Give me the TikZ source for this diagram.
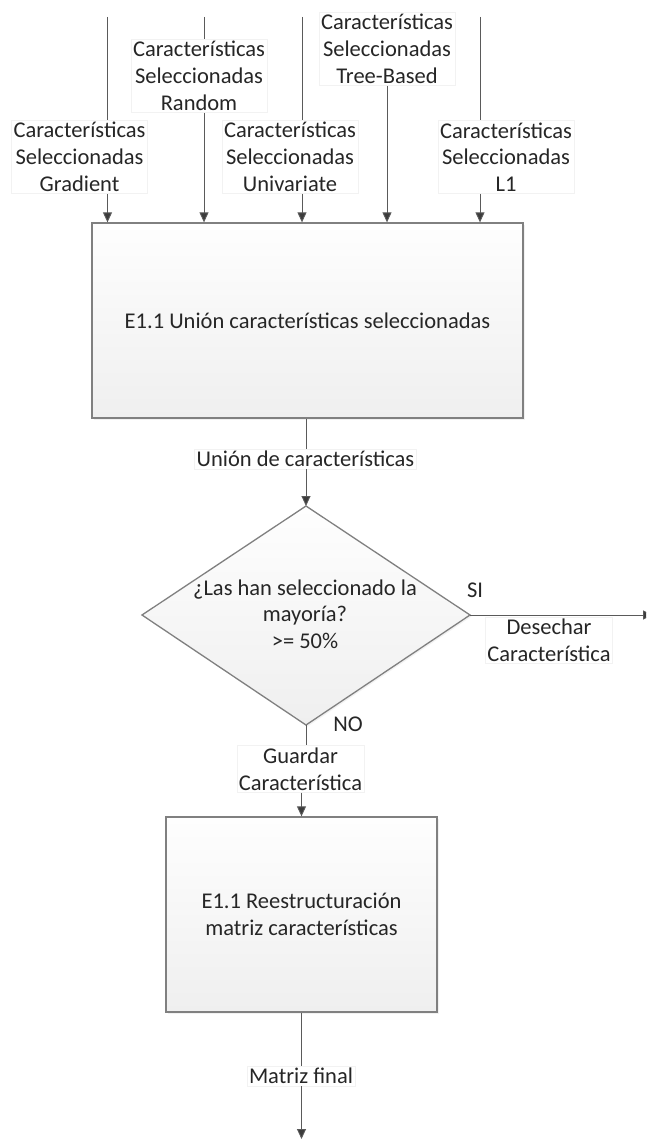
\documentclass[tikz,border=0pt]{standalone}
\usepackage{fontspec}
\setmainfont{Carlito}
\usetikzlibrary{arrows.meta,calc,shadows}

\definecolor{lineC}{HTML}{5A5A5A}
\definecolor{tipC}{HTML}{3C3C3C}
\definecolor{edgeC}{HTML}{808080}
\definecolor{txtC}{HTML}{262626}
\definecolor{labEdge}{HTML}{F2F2F2}
\definecolor{fillTop}{HTML}{FEFEFE}
\definecolor{fillBot}{HTML}{EFEFEF}

\tikzset{
  wire/.style={draw=lineC, line width=0.9pt},
  arr/.style={wire, -{Triangle[length=10pt,width=9pt,fill=tipC]}},
  lbl/.style={fill=white, draw=labEdge, line width=0.6pt, align=center,
    inner xsep=2pt, inner ysep=2pt, text=txtC,
    font=\fontsize{22.5}{26.7}\selectfont},
  txt/.style={align=center, text=txtC, inner sep=0pt,
    font=\fontsize{22.5}{26.7}\selectfont},
  proc/.style={draw=edgeC, line width=1.3pt, top color=fillTop, bottom color=fillBot,
    drop shadow={shadow xshift=1.5pt, shadow yshift=-1.5pt, fill=black!10},
    inner sep=0pt, align=center, text=txtC,
    font=\fontsize{22.5}{26.7}\selectfont},
}

\begin{document}
\begin{tikzpicture}[x=1pt,y=-1pt]
  \clip (0,0) rectangle (646,1140);
  \fill[white] (0,0) rectangle (646,1140);

  % main process boxes
  \node[proc, minimum width=431pt, minimum height=195pt] (union) at (307.5,320.5)
    {E1.1 Unión características seleccionadas};
  \node[proc, minimum width=271pt, minimum height=195pt] (restr) at (301.5,914.5)
    {E1.1 Reestructuración\\matriz características};

  % decision diamond
  \coordinate (dN) at (306,506);
  \coordinate (dE) at (470,615);
  \coordinate (dS) at (306,725);
  \coordinate (dW) at (142,615);
  \path[draw=edgeC, line width=1.3pt, top color=fillTop, bottom color=fillBot,
    drop shadow={shadow xshift=1.5pt, shadow yshift=-1.5pt, fill=black!10}]
    (dN) -- (dE) -- (dS) -- (dW) -- cycle;
  \node[txt] (dtext) at (305,614) {¿Las han seleccionado la\\mayoría?\\>= 50\%};
  \node[txt] (si) at (475,590) {SI};
  \node[txt] (no) at (348,724) {NO};

  % incoming feature sets
  \node[lbl] (labG) at (79.5,157) {Características\\Seleccionadas\\Gradient};
  \node[lbl] (labR) at (199,76) {Características\\Seleccionadas\\Random};
  \node[lbl] (labU) at (290,157) {Características\\Seleccionadas\\Univariate};
  \node[lbl] (labT) at (387,49) {Características\\Seleccionadas\\Tree-Based};
  \node[lbl] (labL) at (506,157) {Características\\Seleccionadas\\L1};

  \coordinate (gT) at (107.5,17);
  \coordinate (rT) at (204,17);
  \coordinate (uT) at (302,17);
  \coordinate (lT) at (480,17);
  \coordinate (tX) at (387,17);

  \draw[wire] (gT) -- (gT |- labG.north);
  \draw[arr] (gT |- labG.south) -- (gT |- union.north);
  \draw[wire] (rT) -- (rT |- labR.north);
  \draw[arr] (rT |- labR.south) -- (rT |- union.north);
  \draw[wire] (uT) -- (uT |- labU.north);
  \draw[arr] (uT |- labU.south) -- (uT |- union.north);
  \draw[arr] (tX |- labT.south) -- (tX |- union.north);
  \draw[wire] (lT) -- (lT |- labL.north);
  \draw[arr] (lT |- labL.south) -- (lT |- union.north);

  % union -> decision
  \node[lbl] (labUn) at (305.5,459) {Unión de características};
  \draw[wire] (dN |- union.south) -- (dN |- labUn.north);
  \draw[arr] (dN |- labUn.south) -- (dN);

  % SI branch: discard
  \coordinate (dOut) at (653,615);
  \draw[arr] (dE) -- (dOut);
  \node[lbl, anchor=north] (labDes) at (549,617) {Desechar\\Característica};

  % NO branch: keep
  \node[lbl] (labGu) at (300.5,769) {Guardar\\Característica};
  \draw[wire] (dS) -- (dS |- labGu.north);
  \draw[arr] (restr.north |- labGu.south) -- (restr.north);

  % final output
  \coordinate (fin) at (301.5,1139);
  \node[lbl] (labM) at (301,1076) {Matriz final};
  \draw[wire] (restr.south) -- (restr.south |- labM.north);
  \draw[arr] (restr.south |- labM.south) -- (fin);
\end{tikzpicture}
\end{document}
